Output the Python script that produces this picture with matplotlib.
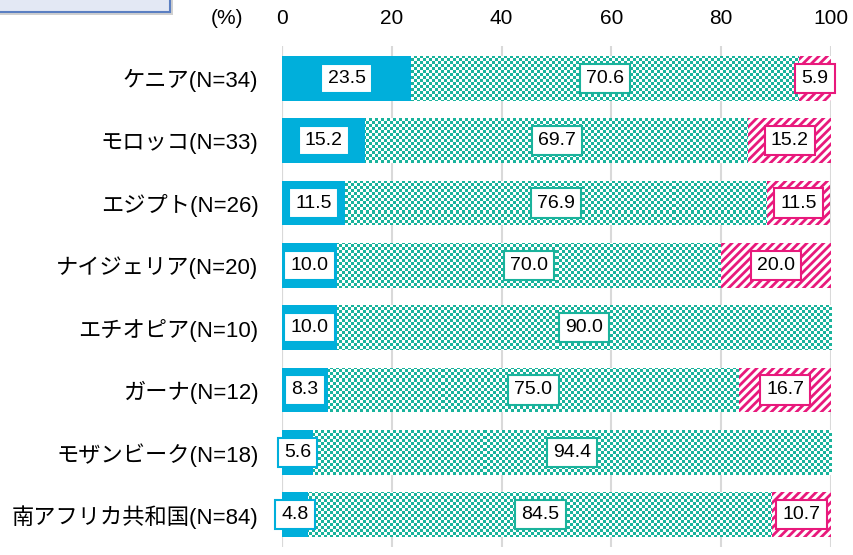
import numpy as np
import matplotlib
matplotlib.use('Agg')
import matplotlib.pyplot as plt
from matplotlib.colors import ListedColormap
from matplotlib.patches import Rectangle

plt.rcParams['font.family'] = ['Liberation Sans', 'Noto Sans CJK JP', 'DejaVu Sans']
plt.rcParams['hatch.linewidth'] = 2.0

countries = ['ケニア(N=34)', 'モロッコ(N=33)', 'エジプト(N=26)', 'ナイジェリア(N=20)',
             'エチオピア(N=10)', 'ガーナ(N=12)', 'モザンビーク(N=18)', '南アフリカ共和国(N=84)']
blue_vals = [23.5, 15.2, 11.5, 10.0, 10.0, 8.3, 5.6, 4.8]
teal_vals = [70.6, 69.7, 76.9, 70.0, 90.0, 75.0, 94.4, 84.5]
pink_vals = [5.9, 15.2, 11.5, 20.0, 0.0, 16.7, 0.0, 10.7]
xticks = [0, 20, 40, 60, 80, 100]

BLUE = '#00afdb'
TEAL = '#1ab39c'
PINK = '#e8197c'

W, H = 854, 555
fig = plt.figure(figsize=(W / 100, H / 100), dpi=100)
# axes sized in whole pixels so the checker cells map 1:1 onto screen pixels
AW, AH = 549, 501
ax = fig.add_axes([282 / W, 8 / H, AW / W, AH / H])

y = np.arange(len(countries))
h = 0.72

ax.barh(y, blue_vals, height=h, color=BLUE, zorder=2)

# checkerboard for the middle segment (3px cells)
iy, ix = np.indices((AH, AW))
checker = ((iy // 3 + ix // 3) % 2)
cmap = ListedColormap(['white', TEAL])
teal_bars = ax.barh(y, teal_vals, left=blue_vals, height=h, color='none', zorder=2)
for bar in teal_bars:
    im = ax.imshow(checker, cmap=cmap, extent=(0, 100, 7.52, -0.52), aspect='auto',
                   interpolation='nearest', zorder=2)
    im.set_clip_path(bar)

left_pink = [b + t for b, t in zip(blue_vals, teal_vals)]
ax.barh(y, pink_vals, left=left_pink, height=h, color='white', edgecolor=PINK,
        hatch='////', linewidth=0, zorder=2)

box = dict(boxstyle='square,pad=0.32', fc='white', lw=1.5)
fs = 14
for i in range(len(countries)):
    ax.text(blue_vals[i] / 2, y[i], f'{blue_vals[i]:.1f}', ha='center', va='center',
            fontsize=fs, zorder=5, bbox=dict(box, ec=BLUE))
    ax.text(blue_vals[i] + teal_vals[i] / 2, y[i], f'{teal_vals[i]:.1f}', ha='center',
            va='center', fontsize=fs, zorder=5, bbox=dict(box, ec=TEAL))
    if pink_vals[i] > 0:
        ax.text(left_pink[i] + pink_vals[i] / 2, y[i], f'{pink_vals[i]:.1f}', ha='center',
                va='center', fontsize=fs, zorder=5, bbox=dict(box, ec=PINK))

ax.set_xlim(0, 100)
ax.set_ylim(7.52, -0.52)
ax.set_yticks(y)
ax.set_yticklabels(countries, fontsize=16)
ax.set_xticks(xticks)
ax.xaxis.tick_top()
ax.tick_params(axis='x', length=0, labelsize=15, pad=13)
ax.tick_params(axis='y', length=0, pad=17)
ax.grid(axis='x', color='#d9d9d9', lw=1.5, zorder=0)
ax.set_axisbelow(True)
for s in ax.spines.values():
    s.set_visible(False)
ax.axvline(0, color='#d9d9d9', lw=1.5, zorder=1)

ax.annotate('(%)', xy=(-10, 1), xycoords=ax.get_xaxis_transform(), xytext=(0, 13),
            textcoords='offset points', ha='center', va='bottom', fontsize=15,
            annotation_clip=False)

# partial box at top left (with a soft shadow)
fig.patches.append(Rectangle((-0.01, 1 - 15 / H), 173 / W + 0.01, 0.05,
                             transform=fig.transFigure, fc='#d0d0d0', ec='none',
                             figure=fig))
fig.patches.append(Rectangle((-0.01, 1 - 12 / H), 170 / W + 0.01, 0.05,
                             transform=fig.transFigure, fc='#e3e8f4', ec='#5b7fc2',
                             lw=1.5, figure=fig))

fig.savefig('out.png', dpi=100)
